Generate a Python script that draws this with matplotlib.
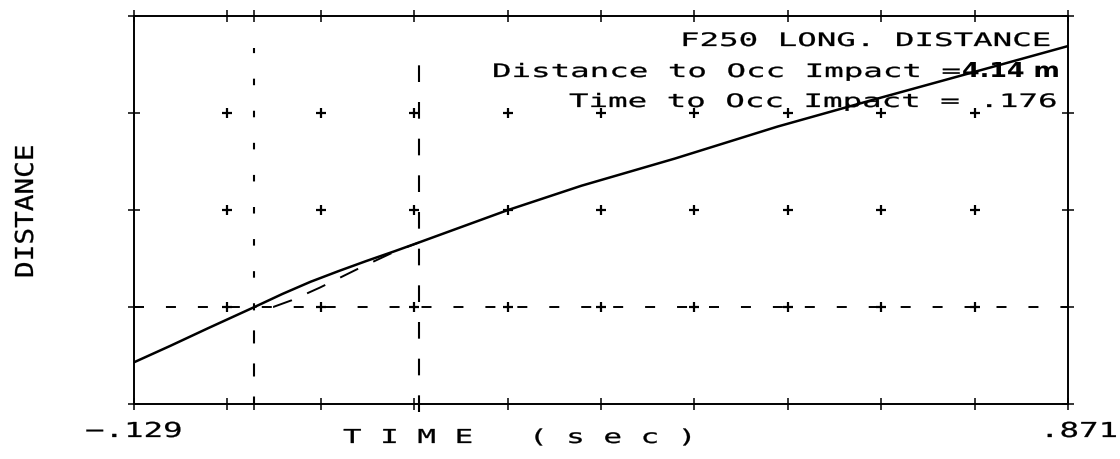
import matplotlib
matplotlib.use("Agg")
import matplotlib.pyplot as plt
from matplotlib.patheffects import AbstractPathEffect
from matplotlib.transforms import Affine2D

# ---------------- data ----------------
time_s = [-0.129, -0.09, -0.05, 0.0, 0.03, 0.06, 0.09, 0.12, 0.15, 0.176,
          0.27, 0.35, 0.45, 0.56, 0.66, 0.76, 0.871]
distance = [0.43, 0.60, 0.78, 1.00, 1.135, 1.26, 1.37, 1.475, 1.575, 1.665,
            1.995, 2.25, 2.53, 2.86, 3.13, 3.395, 3.69]

occ_time = [0.0, 0.02, 0.04, 0.07, 0.11, 0.15, 0.176]
occ_dist = [1.0, 1.0, 1.07, 1.2, 1.39, 1.57, 1.665]

x_ticks = [-0.129, -0.029, 0.0, 0.071, 0.171, 0.271, 0.371, 0.471, 0.571,
           0.671, 0.771, 0.871]
grid_x = [-0.029, 0.071, 0.171, 0.271, 0.371, 0.471, 0.571, 0.671, 0.771]
y_ticks = [0, 1, 2, 3, 4]
grid_y = [1, 2, 3]

t_zero = 0.0
t_impact = 0.176
ref_level = 1.0

title_lines = ["F250 LONG. DISTANCE", "Distance to Occ Impact =",
               "Time to Occ Impact = .176"]
dist_value = "4.14 m"
x_label = "T I M E   ( s e c )"
y_label = "DISTANCE"
x_end_labels = ["\u2212.129", ".871"]

# ---------------- figure ----------------
plt.rcParams["lines.scale_dashes"] = False
W, H = 1120, 459
fig = plt.figure(figsize=(W / 100, H / 100), dpi=100)
L, R, T, B = 134, 1068, 16, 404
ax = fig.add_axes([L / W, 1 - B / H, (R - L) / W, (B - T) / H])
ax.set_xlim(x_ticks[0], x_ticks[-1])
ax.set_ylim(y_ticks[0], y_ticks[-1])

for s in ax.spines.values():
    s.set_linewidth(1.4)
    s.set_color("black")

ax.set_xticks(x_ticks)
ax.set_yticks(y_ticks)
ax.tick_params(axis="both", which="both", direction="inout", length=8.6,
               width=1.1, top=True, right=True, labelbottom=False,
               labelleft=False, colors="black")

# grid "+" markers
gx = [x for x in grid_x for _ in grid_y]
gy = [y for _ in grid_x for y in grid_y]
ax.plot(gx, gy, "+", color="black", ms=7, mew=1.6, zorder=2)

# horizontal reference line
ax.axhline(ref_level, color="black", lw=1.4, ls=(0, (7.2, 15.8)), zorder=1)

# vertical line at t=0 (two dash styles)
ax.plot([t_zero, t_zero], [y_ticks[0], ref_level], color="black", lw=1.5,
        ls=(4, (9.4, 14.4)), zorder=1)
ax.plot([t_zero, t_zero], [ref_level, 3.67], color="black", lw=1.5,
        ls=(2, (4.7, 18.4)), zorder=1)

# vertical line at impact time
ax.plot([t_impact, t_impact], [-0.08, 3.5], color="black", lw=1.5,
        ls=(0, (12, 14.4)), clip_on=False, zorder=1)

# curves
ax.plot(time_s, distance, color="black", lw=1.8, zorder=3)
ax.plot(occ_time, occ_dist, color="black", lw=1.4, ls=(13, (14.4, 12)),
        zorder=3)


# ---------------- stretched text ----------------
class StretchX(AbstractPathEffect):
    def __init__(self, sx, lw=0.0):
        super().__init__((0, 0))
        self.sx = sx
        self.lw = lw

    def draw_path(self, renderer, gc, tpath, affine, rgbFace=None):
        gc0 = renderer.new_gc()
        gc0.copy_properties(gc)
        if self.lw > 0 and rgbFace is not None:
            gc0.set_linewidth(self.lw)
            gc0.set_foreground(rgbFace)
        renderer.draw_path(gc0, tpath, Affine2D().scale(self.sx, 1.0) + affine,
                           rgbFace)
        gc0.restore()


renderer = fig.canvas.get_renderer()


def stext(x_px, y_px, s, cap_px, width_px, align="left", rotation=0,
          family="DejaVu Sans Mono", weight="normal", lw=0.2):
    size_pt = cap_px / 0.729 * 0.72
    if rotation == 0:
        if align == "right":
            x0 = x_px - width_px
        elif align == "center":
            x0 = x_px - width_px / 2
        else:
            x0 = x_px
        t = fig.text(x0 / W, 1 - y_px / H, s, fontsize=size_pt, family=family,
                     weight=weight, ha="left", va="baseline",
                     rotation_mode="anchor")
    else:
        t = fig.text(x_px / W, 1 - y_px / H, s, fontsize=size_pt,
                     family=family, weight=weight, ha="left", va="baseline",
                     rotation=90, rotation_mode="anchor")
    t.set_rotation(0)
    nat = t.get_window_extent(renderer).width
    t.set_rotation(rotation)
    t.set_path_effects([StretchX(width_px / nat, lw)])
    return t


ADV = 19.5
stext(680, 46, title_lines[0], 13.5, len(title_lines[0]) * ADV)
stext(492, 77, title_lines[1], 13.5, len(title_lines[1]) * ADV)
stext(962, 77, dist_value, 15, 98, family="DejaVu Sans", weight="bold", lw=0)
stext(569, 107, title_lines[2], 13.5, len(title_lines[2]) * ADV)

stext(85, 437, x_end_labels[0], 15, 5 * ADV)
stext(1118, 437, x_end_labels[1], 15, 4 * ADV, align="right")

stext(343, 443, x_label, 14, len(x_label) * 18.5)
stext(33, 278, y_label, 18, len(y_label) * 16.7, rotation=90)

fig.savefig("out.png", dpi=100)
